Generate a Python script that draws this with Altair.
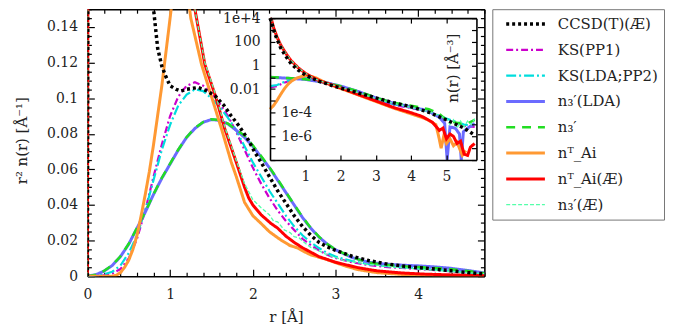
import altair as alt
import pandas as pd

FONT = "DejaVu Serif"

SERIES = ["CCSD(T)(Æ)", "KS(PP1)", "KS(LDA;PP2)", "n₃′(LDA)", "n₃′", "nᵀ_Ai", "nᵀ_Ai(Æ)", "n₃′(Æ)"]
COLORS = ["#000000", "#cc00cc", "#00dddd", "#6b6bff", "#22dd22", "#ff9933", "#ff0000", "#55ffaa"]
DASHES = [[3, 3], [7, 3, 2, 3], [10, 3, 2, 3], [1, 0], [9, 7], [1, 0], [1, 0], [4, 2]]
WIDTHS = [3.5, 2.2, 2.2, 3.0, 2.5, 3.0, 3.0, 1.3]
DRAW_ORDER = [1, 2, 3, 4, 5, 6, 7, 0]

# ---------------- main panel: r^2 n(r) ----------------
ccsd_r = [0, 0.01, 0.1, 0.6, 0.72, 0.8, 0.85, 0.9, 0.95, 1.0, 1.07, 1.13, 1.2, 1.34, 1.45, 1.55, 1.65, 1.74, 1.84, 1.94,
          2.02, 2.1, 2.2, 2.3, 2.4, 2.5, 2.6, 2.7, 2.8, 2.9, 3.0, 3.2, 3.4, 3.6, 3.8, 4.0, 4.2, 4.4, 4.6, 4.8]
ccsd_v = [0, 0.3, 0.8, 0.3, 0.2, 0.15, 0.128, 0.118, 0.112, 0.107, 0.105, 0.104, 0.105, 0.106, 0.104, 0.101, 0.096,
          0.09, 0.084, 0.077, 0.07, 0.064, 0.056, 0.048, 0.041, 0.034, 0.028, 0.023, 0.019, 0.0165, 0.0145, 0.0112,
          0.0088, 0.007, 0.0058, 0.0048, 0.004, 0.003, 0.002, 0.0012]

grid_r = [0, 0.1, 0.2, 0.3, 0.4, 0.5, 0.6, 0.7, 0.8, 0.9, 1.0, 1.1, 1.2, 1.3, 1.4, 1.5, 1.6, 1.7, 1.8, 1.9, 2.0, 2.1,
          2.2, 2.3, 2.4, 2.5, 2.6, 2.7, 2.8, 2.9, 3.0, 3.2, 3.4, 3.6, 3.8, 4.0, 4.2, 4.4, 4.6, 4.8]
ks1_v = [0, 0.0001, 0.0005, 0.0015, 0.004, 0.01, 0.021, 0.037, 0.056, 0.074, 0.09, 0.101, 0.107, 0.109, 0.107, 0.103,
         0.097, 0.09, 0.081, 0.071, 0.061, 0.052, 0.044, 0.037, 0.031, 0.026, 0.021, 0.0175, 0.0145, 0.012, 0.0102,
         0.0078, 0.0062, 0.0052, 0.0046, 0.004, 0.0034, 0.0027, 0.002, 0.0012]
ks2_v = [0, 0.0002, 0.001, 0.0025, 0.006, 0.013, 0.023, 0.037, 0.054, 0.071, 0.085, 0.096, 0.102, 0.105, 0.104, 0.1,
         0.095, 0.089, 0.082, 0.073, 0.064, 0.056, 0.048, 0.041, 0.034, 0.028, 0.023, 0.019, 0.0158, 0.013, 0.011,
         0.0085, 0.0068, 0.0058, 0.005, 0.0044, 0.0037, 0.003, 0.0021, 0.0013]
n3lda_v = [0, 0.0008, 0.0028, 0.006, 0.011, 0.018, 0.027, 0.036, 0.046, 0.055, 0.063, 0.071, 0.078, 0.083, 0.0865,
           0.088, 0.0875, 0.0855, 0.082, 0.078, 0.073, 0.067, 0.061, 0.054, 0.047, 0.04, 0.033, 0.027, 0.022, 0.018,
           0.0148, 0.0105, 0.0078, 0.0068, 0.0062, 0.0058, 0.0052, 0.0044, 0.0032, 0.0018]
n3_v = [0, 0.0008, 0.0029, 0.0061, 0.0112, 0.0182, 0.0272, 0.0362, 0.0461, 0.0552, 0.0632, 0.0712, 0.0781, 0.0832,
        0.0866, 0.0882, 0.0877, 0.0857, 0.0823, 0.079, 0.0735, 0.0675, 0.0612, 0.0545, 0.0472, 0.0402, 0.0333, 0.0272,
        0.0222, 0.0181, 0.015, 0.0106, 0.0076, 0.0064, 0.0056, 0.0051, 0.0046, 0.0039, 0.0029, 0.0016]

ai_r = [0, 0.3, 0.35, 0.4, 0.45, 0.5, 0.55, 0.6, 0.65, 0.7, 0.75, 0.8, 0.9, 1.0, 1.06, 1.12, 1.18, 1.25, 1.38, 1.5,
        1.62, 1.74, 1.8, 1.9, 2.0, 2.1, 2.2, 2.34, 2.45, 2.54, 2.6, 2.7, 2.9, 3.1, 3.27, 3.5, 3.8, 4.2, 4.8]
ai_v = [0, 0, 0.0005, 0.002, 0.005, 0.009, 0.015, 0.023, 0.034, 0.046, 0.059, 0.074, 0.107, 0.145, 0.168, 0.178, 0.17,
        0.145, 0.119, 0.101, 0.083, 0.064, 0.056, 0.0415, 0.034, 0.0296, 0.025, 0.0203, 0.0172, 0.0159, 0.0143, 0.012,
        0.0093, 0.006, 0.0037, 0.002, 0.001, 0.0004, 0.0001]

aiae_r = [0, 0.01, 0.1, 1.0, 1.2, 1.3, 1.42, 1.55, 1.66, 1.8, 1.9, 1.95, 2.0, 2.1, 2.22, 2.3, 2.4, 2.5, 2.6, 2.7, 2.8,
          3.0, 3.27, 3.5, 3.8, 4.1, 4.5, 4.8]
aiae_v = [0, 0.3, 0.8, 0.3, 0.2, 0.15, 0.119, 0.101, 0.083, 0.064, 0.05, 0.044, 0.04, 0.0345, 0.0296, 0.027, 0.0225,
          0.019, 0.016, 0.0135, 0.011, 0.0078, 0.0048, 0.003, 0.0018, 0.0011, 0.0006, 0.0004]

n3ae_r = [0, 0.01, 0.1, 1.0, 1.2, 1.3, 1.42, 1.55, 1.66, 1.8, 1.9, 2.0, 2.1, 2.2, 2.25, 2.3, 2.38, 2.45, 2.5, 2.56,
          2.62, 2.7, 2.8, 2.9, 3.0, 3.1, 3.27, 3.4, 3.6, 3.8, 4.0, 4.2, 4.4, 4.6, 4.8]
n3ae_v = [0, 0.3, 0.8, 0.3, 0.2, 0.15, 0.12, 0.102, 0.084, 0.065, 0.052, 0.043, 0.0385, 0.0345, 0.031, 0.0305, 0.026,
          0.0245, 0.0222, 0.0215, 0.019, 0.0162, 0.0142, 0.012, 0.0106, 0.0088, 0.0077, 0.0066, 0.0056, 0.0047, 0.004,
          0.0033, 0.0026, 0.002, 0.0014]

MAIN = [(ccsd_r, ccsd_v), (grid_r, ks1_v), (grid_r, ks2_v), (grid_r, n3lda_v), (grid_r, n3_v),
        (ai_r, ai_v), (aiae_r, aiae_v), (n3ae_r, n3ae_v)]

# ---------------- inset: n(r), log scale ----------------
in_ccsd_r = [0, 0.05, 0.1, 0.2, 0.3, 0.4, 0.5, 0.6, 0.8, 1.0, 1.2, 1.4, 1.8, 2.3, 3.0, 3.5, 4.0, 4.5, 5.0, 5.5, 5.8]
in_ccsd_n = [2e4, 4e3, 1e3, 160, 32, 10, 3.5, 1.4, 0.4, 0.16, 0.08, 0.045, 0.018, 7e-3, 1.8e-3, 7e-4, 3.2e-4, 1.1e-4,
             2.5e-5, 5e-6, 1.3e-6]
in_ks_r = [0, 0.2, 0.4, 0.6, 0.8, 1.0, 1.3, 1.5, 2.0, 2.5, 3.0, 3.5, 4.0, 4.5, 5.0, 5.5, 5.8]
in_ks1_n = [0.014, 0.018, 0.035, 0.056, 0.087, 0.09, 0.065, 0.046, 0.016, 4.2e-3, 1.1e-3, 4.7e-4, 2.5e-4, 1.2e-4,
            2.5e-5, 8e-6, 6.3e-6]
in_ks2_n = [0.018, 0.022, 0.04, 0.063, 0.089, 0.1, 0.062, 0.045, 0.0166, 4.7e-3, 1.26e-3, 5.2e-4, 2.8e-4, 1.26e-4,
            3.2e-5, 1e-5, 8e-6]
in_n3lda_r = [0, 0.5, 1.0, 1.5, 2.0, 2.5, 3.0, 3.5, 4.0, 4.5, 4.8, 4.95, 5.02, 5.1, 5.25, 5.37, 5.42, 5.48, 5.65, 5.8]
in_n3lda_n = [0.1, 0.083, 0.066, 0.038, 0.018, 6.3e-3, 1.8e-3, 6.3e-4, 3.2e-4, 1.4e-4, 4e-5, 1.26e-5, 1e-8, 6.3e-6,
              5e-6, 1.6e-6, 1e-8, 2.5e-6, 6.3e-6, 1.26e-5]
in_n3_r = [0, 0.5, 1.0, 1.5, 2.0, 2.5, 3.0, 3.5, 4.0, 4.5, 4.8, 5.0, 5.2, 5.4, 5.6, 5.8]
in_n3_n = [0.105, 0.087, 0.068, 0.039, 0.018, 6.6e-3, 1.9e-3, 7e-4, 4e-4, 2e-4, 8e-5, 2.5e-5, 1.6e-5, 1.26e-5,
           1.26e-5, 2.5e-5]
in_ai_r = [0, 0.1, 0.2, 0.3, 0.4, 0.5, 0.6, 0.7, 0.8, 0.9, 1.0, 1.1, 1.2, 1.3, 1.4, 1.6, 2.0, 2.5, 3.0, 3.5, 4.0, 4.4,
           4.7, 4.78, 4.85, 4.92, 5.0, 5.1, 5.2, 5.3, 5.45, 5.55]
in_ai_n = [2e-4, 4e-4, 1.1e-3, 3.5e-3, 0.01, 0.024, 0.045, 0.071, 0.095, 0.117, 0.132, 0.132, 0.112, 0.089, 0.063,
           0.032, 0.0112, 3.2e-3, 8.9e-4, 2.5e-4, 8e-5, 3.2e-5, 1e-5, 1e-6, 1e-7, 1e-6, 2.5e-7, 6.3e-7, 1.6e-7,
           3.2e-7, 2.5e-8, 6.3e-8]
in_aiae_r = [0, 0.05, 0.1, 0.2, 0.3, 0.4, 0.5, 0.6, 0.8, 1.0, 1.2, 1.4, 1.6, 2.0, 2.5, 3.0, 3.5, 4.0, 4.3, 4.6, 4.8,
             4.9, 5.0, 5.1, 5.2, 5.3, 5.4, 5.5, 5.6, 5.68, 5.8]
in_aiae_n = [2.5e4, 6.3e3, 1.6e3, 250, 56, 18, 6.3, 2.5, 0.63, 0.22, 0.1, 0.05, 0.032, 0.0126, 3.5e-3, 1e-3, 2.8e-4,
             1e-4, 5e-5, 1.6e-5, 3.2e-6, 5e-6, 6.3e-7, 1.6e-6, 1e-6, 2.5e-7, 4e-7, 3.2e-8, 2.5e-8, 1.26e-7, 2.5e-7]
in_n3ae_r = [0, 0.05, 0.1, 0.2, 0.3, 0.4, 0.5, 0.6, 0.8, 1.0, 1.2, 1.4, 1.6, 2.0, 2.5, 3.0, 3.5, 4.0, 4.5, 4.8, 5.0,
             5.1, 5.2, 5.3, 5.4, 5.5, 5.6, 5.7, 5.8]
in_n3ae_n = [2.5e4, 6.3e3, 1.6e3, 250, 56, 18, 6.3, 2.5, 0.63, 0.22, 0.1, 0.05, 0.032, 0.014, 5e-3, 1.6e-3, 6.3e-4,
             2.8e-4, 1.26e-4, 5.6e-5, 3.2e-5, 1e-5, 2.5e-5, 5e-6, 2e-5, 6.3e-6, 2e-5, 1e-5, 3.2e-5]

INSET = [(in_ccsd_r, in_ccsd_n), (in_ks_r, in_ks1_n), (in_ks_r, in_ks2_n), (in_n3lda_r, in_n3lda_n),
         (in_n3_r, in_n3_n), (in_ai_r, in_ai_n), (in_aiae_r, in_aiae_n), (in_n3ae_r, in_n3ae_n)]

MAIN_X_LABELS = [0, 1, 2, 3, 4]
MAIN_Y_LABELS = [0, 0.02, 0.04, 0.06, 0.08, 0.1, 0.12, 0.14]
MAIN_X_TICKS = [round(0.2 * i, 2) for i in range(25)]
MAIN_Y_TICKS = [round(0.005 * i, 3) for i in range(31)]
INSET_X_TICKS = [1, 2, 3, 4, 5]
INSET_Y_TICKS = [1e-8, 1e-7, 1e-6, 1e-5, 1e-4, 1e-3, 1e-2, 1e-1, 1, 10, 100, 1e3, 1e4]
INSET_Y_LABELS = [1e4, 100, 1, 0.01]

# ---------------- layout (pixels) ----------------
W, H = 400, 269
IN_L, IN_R, IN_T, IN_B = 184, 392, 9, 152


def long_frame(sets, yname):
    rows = []
    for k in DRAW_ORDER:
        rs, vs = sets[k]
        for i, (r, v) in enumerate(zip(rs, vs)):
            rows.append({"series": SERIES[k], "r": r, yname: v, "i": i})
    return pd.DataFrame(rows)


main_df = long_frame(MAIN, "v")
inset_df = long_frame(INSET, "n")

legend = alt.Legend(title=None, orient="none", legendX=408, legendY=0, symbolType="stroke", symbolSize=1521,
                    clipHeight=18, labelFont=FONT, labelFontSize=15, labelColor="#222", padding=6,
                    symbolOffset=6, labelOffset=11, rowPadding=8, strokeColor="#777", fillColor="white",
                    cornerRadius=0)
col = alt.Color("series:N", scale=alt.Scale(domain=SERIES, range=COLORS), legend=legend)
dash = alt.StrokeDash("series:N", scale=alt.Scale(domain=SERIES, range=DASHES), legend=legend)
wid = alt.StrokeWidth("series:N", scale=alt.Scale(type="ordinal", domain=SERIES, range=WIDTHS), legend=legend)

xs_main = alt.Scale(domain=[0, 4.8], nice=False, zero=False)
ys_main = alt.Scale(domain=[0, 0.15], nice=False, zero=False)
xs_in = alt.Scale(domain=[0, 5.85], nice=False, zero=False, range=[IN_L, IN_R], clamp=True)
ys_in = alt.Scale(type="log", domain=[1e-8, 1e4], nice=False, range=[IN_B, IN_T], clamp=True)

x_major = {"condition": {"test": "abs(datum.value - round(datum.value)) < 0.001", "value": 7}, "value": 4}
y_major = {"condition": {"test": "abs(datum.value * 50 - round(datum.value * 50)) < 0.01", "value": 7}, "value": 4}

frame_main = pd.DataFrame({"r": [0.0], "v": [0.0]})
frame_in = pd.DataFrame({"r": [1.0], "n": [1.0]})
rect_in = pd.DataFrame({"x0": [0.0], "x1": [5.85], "y0": [1e-8], "y1": [1e4]})

# ----- main panel layers -----
m1 = alt.Chart(main_df).mark_line(clip=True, strokeCap="butt").encode(
    x=alt.X("r:Q", scale=xs_main, axis=alt.Axis(
        values=MAIN_X_LABELS, format="d", ticks=False, tickSize=0, domain=False, labelPadding=11,
        labelFlush=False, title="r [Å]", titleY=41, titleBaseline="middle")),
    y=alt.Y("v:Q", scale=ys_main, axis=alt.Axis(
        values=MAIN_Y_LABELS, format=".2~f", ticks=False, tickSize=0, domain=False, labelPadding=10,
        labelFlush=False, title="r² n(r) [Å⁻¹]", titleX=-66, titleY=132, titleAngle=270, titleAlign="center",
        titleBaseline="middle")),
    color=col, strokeDash=dash, strokeWidth=wid, order="i:Q", detail="series:N",
)
m2 = alt.Chart(frame_main).mark_point(opacity=0).encode(
    x=alt.X("r:Q", scale=xs_main, axis=alt.Axis(
        orient="top", offset=-H, values=MAIN_X_TICKS, labels=False, tickSize=x_major, title=None)),
    y=alt.Y("v:Q", scale=ys_main, axis=alt.Axis(
        orient="right", offset=-W, values=MAIN_Y_TICKS, labels=False, tickSize=y_major, title=None)),
)
m3 = alt.Chart(frame_main).mark_point(opacity=0).encode(
    x=alt.X("r:Q", scale=xs_main, axis=alt.Axis(
        orient="bottom", offset=-H, values=MAIN_X_TICKS, labels=False, tickSize=x_major, title=None)),
    y=alt.Y("v:Q", scale=ys_main, axis=alt.Axis(
        orient="left", offset=-W, values=MAIN_Y_TICKS, labels=False, tickSize=y_major, title=None)),
)
main = alt.layer(m1, m2, m3).resolve_axis(x="independent", y="independent")

# ----- inset layers -----
label_expr = ("datum.value > 1000 ? '1e+4' : datum.value > 10 ? '100' : datum.value > 0.5 ? '1' : "
              "datum.value > 0.001 ? '0.01' : ''")
low_expr = ("abs(log(datum.value) / LN10 + 4) < 0.01 ? '1e-4' : "
            "abs(log(datum.value) / LN10 + 6) < 0.01 ? '1e-6' : ''")

i0 = alt.Chart(rect_in).mark_rect(fill="white", stroke=None).encode(
    x=alt.X("x0:Q", scale=xs_in, axis=alt.Axis(
        orient="bottom", offset=-(H - IN_B), values=INSET_X_TICKS, format="d", ticks=False, tickSize=0,
        domain=False, labelPadding=10, labelFlush=False, title=None, zindex=1)),
    x2="x1:Q",
    y=alt.Y("y0:Q", scale=ys_in, axis=alt.Axis(
        orient="left", offset=-IN_L, values=INSET_Y_LABELS, labelExpr=label_expr, ticks=False, tickSize=0,
        domain=False, labelPadding=10, labelOverlap=False, labelFlush=False, title=None, zindex=1)),
    y2="y1:Q",
)
i1 = alt.Chart(inset_df).mark_line(clip=True, strokeCap="butt").encode(
    x=alt.X("r:Q", scale=xs_in, axis=alt.Axis(
        orient="top", offset=-IN_B, values=INSET_X_TICKS, labels=False, tickSize=5, title=None, zindex=1)),
    y=alt.Y("n:Q", scale=ys_in, axis=alt.Axis(
        orient="right", offset=-(W - IN_L), values=INSET_Y_TICKS, labelExpr=low_expr, tickSize=5,
        labelPadding=6, labelOverlap=False, labelFlush=False, title=None, zindex=1)),
    color=col, strokeDash=dash, strokeWidth=wid, order="i:Q", detail="series:N",
)
i2 = alt.Chart(frame_in).mark_point(opacity=0).encode(
    x=alt.X("r:Q", scale=xs_in, axis=alt.Axis(
        orient="bottom", offset=-(H - IN_T), values=INSET_X_TICKS, labels=False, tickSize=5, title=None,
        zindex=1)),
    y=alt.Y("n:Q", scale=ys_in, axis=alt.Axis(
        orient="left", offset=-IN_R, values=INSET_Y_TICKS, labels=False, tickSize=5, zindex=1,
        title="n(r) [Å⁻³]", titleX=-24, titleY=59, titleAngle=270, titleAlign="center",
        titleBaseline="middle")),
)
inset = alt.layer(i0, i1, i2).resolve_axis(x="independent", y="independent")

chart = alt.layer(main, inset).resolve_scale(x="independent", y="independent").properties(
    width=W, height=H,
    autosize=alt.AutoSizeParams(type="none"),
    padding={"left": 80, "top": 0, "right": 182, "bottom": 50},
).configure_view(stroke=None).configure_axis(
    grid=False, labelFont=FONT, titleFont=FONT, labelFontSize=14, titleFontSize=15, titleFontWeight="normal",
    labelColor="#222", titleColor="#222", domainColor="black", domainWidth=1.6, tickColor="black", tickWidth=1.2,
)

chart.save("out.html", embed_options={"renderer": "svg", "actions": False})
